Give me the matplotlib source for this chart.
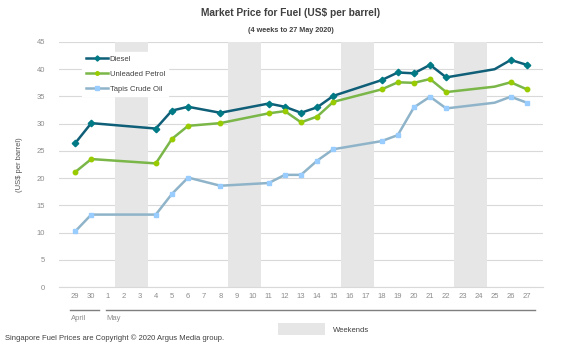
import matplotlib.pyplot as plt
from matplotlib.patches import Rectangle
from matplotlib.lines import Line2D

plt.rcParams['font.family'] = ['Liberation Sans', 'DejaVu Sans']

# calendar days on the x axis (29 Apr .. 27 May)
days = ['29', '30', '1', '2', '3', '4', '5', '6', '7', '8', '9', '10', '11', '12',
        '13', '14', '15', '16', '17', '18', '19', '20', '21', '22', '23', '24',
        '25', '26', '27']
# days with a price
price_days = ['29', '30', '4', '5', '6', '8', '11', '12', '13', '14', '15', '18',
              '19', '20', '21', '22', '25', '26', '27']
diesel = [26.4, 30.1, 29.1, 32.4, 33.1, 32.0, 33.7, 33.1, 32.0, 33.0, 35.1, 38.0,
          39.4, 39.25, 40.8, 38.5, 40.0, 41.7, 40.8]
petrol = [21.1, 23.5, 22.7, 27.2, 29.6, 30.1, 31.9, 32.3, 30.25, 31.3, 34.0, 36.3,
          37.6, 37.5, 38.2, 35.8, 36.8, 37.6, 36.3]
tapis = [10.2, 13.3, 13.3, 17.1, 20.1, 18.6, 19.1, 20.6, 20.6, 23.2, 25.3, 26.8,
         27.9, 33.0, 34.95, 32.8, 33.85, 34.95, 33.85]
weekends = [('2', '3'), ('9', '10'), ('16', '17'), ('23', '24')]
no_marker = ['25']

xpos = [days.index(d) for d in price_days]
marks = [i for i, d in enumerate(price_days) if d not in no_marker]

fig = plt.figure(figsize=(5.81, 3.49), dpi=100)
ax = fig.add_axes([59 / 581, 1 - 287 / 349, (543 - 59) / 581, (287 - 42) / 349])

for a, b in weekends:
    ax.axvspan(days.index(a) - 0.5, days.index(b) + 0.5, color='#e6e6e6', lw=0, zorder=1)

ax.plot(xpos, diesel, color='#0f5f78', lw=1.8, marker='D', ms=3.3, mfc='#007a85',
        mec='#007a85', markevery=marks, label='Diesel', zorder=4)
ax.plot(xpos, petrol, color='#7ab648', lw=1.8, marker='o', ms=3.2, mfc='#99cc00',
        mec='#99cc00', markevery=marks, label='Unleaded Petrol', zorder=4)
ax.plot(xpos, tapis, color='#8fb4c9', lw=1.8, marker='s', ms=3.0, mfc='#99ccff',
        mec='#99ccff', markevery=marks, label='Tapis Crude Oil', zorder=4)

ax.set_xlim(-1, 29)
ax.set_ylim(0, 45)
ax.set_yticks(range(0, 46, 5))
ax.set_xticks(range(len(days)))
ax.set_xticklabels(days)
ax.grid(axis='y', color='#d9d9d9', lw=0.8, zorder=0)
ax.set_axisbelow(True)
for s in ['top', 'right', 'left']:
    ax.spines[s].set_visible(False)
ax.spines['bottom'].set_color('#d9d9d9')
ax.tick_params(axis='both', length=0, labelsize=5.5, labelcolor='#8c8c8c')
ax.tick_params(axis='y', pad=10)
ax.tick_params(axis='x', pad=4)
ax.set_ylabel('(US$ per barrel)', fontsize=5.5, color='#555555', labelpad=10)

leg = ax.legend(loc='upper left', bbox_to_anchor=(0.04, 0.975), fontsize=5.5,
                frameon=True, framealpha=1, edgecolor='white', fancybox=False,
                handlelength=2.9, handletextpad=0.25, labelspacing=1.0,
                borderpad=0.45, markerscale=0.8)
for t in leg.get_texts():
    t.set_color('#404040')
leg.set_zorder(3)

fig.text(0.5, 1 - 13 / 349, 'Market Price for Fuel (US$ per barrel)', ha='center',
         va='center', fontsize=7.3, fontweight='bold', color='#404040')
fig.text(0.5, 1 - 30 / 349, '(4 weeks to 27 May 2020)', ha='center', va='center',
         fontsize=5.2, fontweight='bold', color='#404040')

# month brackets below the day labels
fig.add_artist(Line2D([70 / 581, 99 / 581], [1 - 310 / 349] * 2, color='#7f7f7f', lw=1))
fig.add_artist(Line2D([106 / 581, 535 / 581], [1 - 310 / 349] * 2, color='#7f7f7f', lw=1))
fig.text(71 / 581, 1 - 318 / 349, 'April', fontsize=5.5, color='#8c8c8c', va='center')
fig.text(106 / 581, 1 - 318 / 349, 'May', fontsize=5.5, color='#8c8c8c', va='center')

fig.add_artist(Rectangle((278 / 581, 1 - 335 / 349), 47 / 581, 12.5 / 349,
                         transform=fig.transFigure, color='#e6e6e6', lw=0))
fig.text(333 / 581, 1 - 330 / 349, 'Weekends', fontsize=5.5, color='#404040', va='center')
fig.text(5 / 581, 1 - 338 / 349, 'Singapore Fuel Prices are Copyright \u00a9 2020 Argus Media group.',
         fontsize=5.5, color='#404040', va='center')

fig.savefig('out.png', dpi=100)
